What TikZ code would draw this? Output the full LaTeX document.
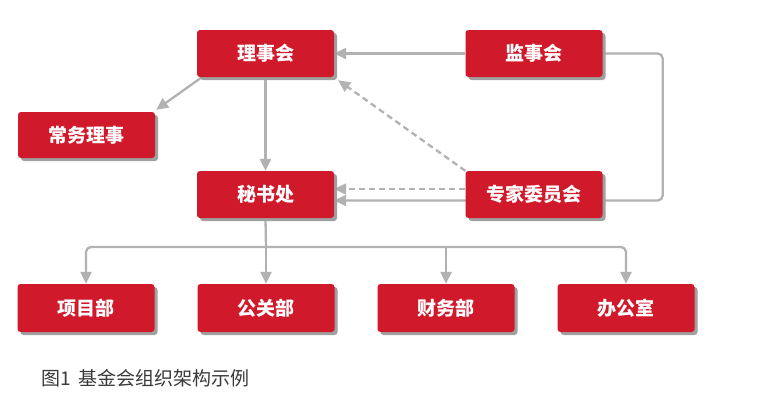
\documentclass[tikz,border=0pt]{standalone}
\usepackage{fontspec}
\setmainfont{Noto Sans CJK SC}
\usetikzlibrary{arrows.meta,shadows,backgrounds,calc}
\definecolor{boxred}{HTML}{D0192A}
\definecolor{linegray}{HTML}{B2B2B2}
\definecolor{shadowgray}{HTML}{A0A0A0}
\definecolor{capgray}{HTML}{3A3A3A}
\tikzset{
  box/.style={draw=none, fill=boxred, rounded corners=3pt, minimum width=137pt, minimum height=47pt,
    text=white, font=\fontsize{19}{20}\selectfont\bfseries, inner sep=0pt,
    drop shadow={shadow xshift=3pt, shadow yshift=-3pt, fill=shadowgray, opacity=1}},
  conn/.style={draw=linegray, line width=2.3pt, -{Triangle[length=12pt,width=11pt]}, fill=none},
  dconn/.style={conn, dash pattern=on 6pt off 4pt},
}
\begin{document}
\begin{tikzpicture}[x=1pt,y=-1pt]
\useasboundingbox (0,0) rectangle (758,413);
\node[box] (lsh) at (265.5,53.5) {理事会};
\node[box] (jsh) at (534,53.5) {监事会};
\node[box, minimum height=46pt] (cwls) at (86.5,135) {常务理事};
\node[box] (msc) at (265.5,194.5) {秘书处};
\node[box] (zj) at (534,194.5) {专家委员会};
\node[box, minimum height=48pt] (xm) at (86,308) {项目部};
\node[box, minimum height=48pt] (gg) at (266,308) {公关部};
\node[box, minimum height=48pt] (cw) at (446,308) {财务部};
\node[box, minimum height=48pt] (bg) at (626,308) {办公室};
\node[anchor=west, inner sep=0pt, text=capgray, font=\fontsize{19}{20}\selectfont] (cap) at (41,378) {图1\hspace{8pt}基金会组织架构示例};
\coordinate (bus) at (266,247);
\begin{pgfonlayer}{background}
\fill[white] (0,0) rectangle (758,413);
\draw[conn] (lsh.south) -- (msc.north);
\draw[conn] ($(lsh.south west)+(5,0)$) -- ($(cwls.north east)+(1,-2)$);
\draw[conn] (jsh.west) -- (lsh.east);
\draw[conn, rounded corners=5pt] (jsh.east) -- ($(jsh.east)+(60,0)$) |- ($(msc.east)+(0,6)$);
\draw[dconn] (zj.north west) -- ($(lsh.south east)+(4,3)$);
\draw[dconn] ($(zj.west)+(0,-5.5)$) -- ($(msc.east)+(0,-5.5)$);
\draw[conn, -] (msc.south) -- (bus);
\draw[conn] (bus) -- (gg.north);
\draw[conn, rounded corners=5pt] (bus) -| (xm.north);
\draw[conn, rounded corners=5pt] (bus) -| (bg.north);
\draw[conn] (bus -| cw.north) -- (cw.north);
\end{pgfonlayer}
\end{tikzpicture}
\end{document}
